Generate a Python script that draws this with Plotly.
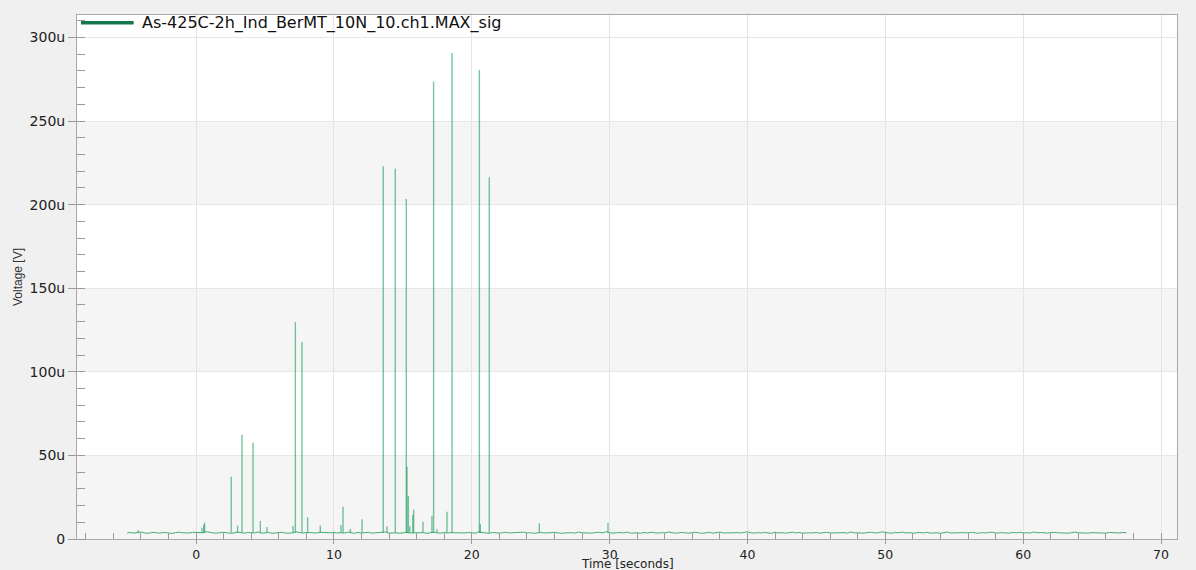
import plotly.graph_objects as go

# ---------------- data (microvolts / seconds) ----------------
series_name = "As-425C-2h_Ind_BerMT_10N_10.ch1.MAX_sig"
x_title = "Time [seconds]"
y_title = "Voltage [V]"

base_start_s = -5.0
base_step_s = 0.25
baseline_uv = [
    3.6, 3.9, 3.5, 3.7, 4.2, 3.6, 3.4, 3.8, 4.0, 3.5, 3.7, 3.9, 3.6, 3.3, 3.8, 4.1, 3.7, 3.5, 3.6, 4.0,
    3.8, 3.5, 3.7, 4.4, 3.9, 3.6, 3.5, 3.8, 4.0, 3.7, 3.4, 3.6, 4.1, 3.8, 3.5, 3.9, 3.7, 3.6, 4.2, 3.5,
    3.7, 3.9, 3.4, 3.6, 3.8, 4.0, 3.5, 3.7, 3.6, 4.3, 3.8, 3.5, 3.9, 3.7, 3.4, 3.6, 4.0, 3.8, 3.5, 3.7,
    3.9, 3.6, 3.8, 3.5, 4.1, 3.7, 3.4, 3.9, 3.6, 3.8, 4.0, 3.5, 3.7, 3.6, 3.9, 4.2, 3.5, 3.8, 3.7, 3.4,
    3.8, 4.0, 3.6, 3.7, 3.5, 3.9, 3.8, 3.4, 3.6, 4.1, 3.7, 3.5, 3.9, 3.6, 3.8, 3.7, 4.0, 3.5, 3.6, 3.9,
    3.7, 3.5, 4.2, 3.8, 3.6, 3.4, 3.9, 3.7, 3.5, 3.8, 4.0, 3.6, 3.7, 3.5, 3.9, 4.1, 3.6, 3.8, 3.4, 3.7,
    3.9, 3.6, 3.5, 3.8, 4.0, 3.7, 3.4, 3.6, 3.9, 3.8, 3.5, 4.2, 3.7, 3.6, 3.8, 3.5, 3.9, 4.0, 3.6, 4.4,
    3.8, 3.5, 3.7, 3.9, 3.6, 4.1, 3.5, 3.8, 3.7, 3.4, 3.9, 3.6, 4.0, 3.7, 3.5, 3.8, 3.6, 4.2, 3.7, 3.5,
    3.6, 3.9, 3.7, 3.5, 3.8, 4.0, 3.6, 3.4, 3.7, 3.9, 3.5, 3.8, 4.1, 3.6, 3.7, 3.5, 3.9, 3.8, 3.6, 4.0,
    4.3, 3.7, 3.5, 3.8, 3.6, 3.9, 3.7, 3.4, 4.0, 3.6, 3.8, 3.5, 3.7, 4.1, 3.6, 3.9, 3.5, 3.8, 3.7, 3.6,
    3.9, 3.5, 3.8, 4.0, 3.6, 3.7, 3.4, 3.9, 3.8, 3.5, 4.2, 3.7, 3.6, 3.8, 3.5, 3.9, 4.0, 3.6, 3.7, 4.3,
    3.8, 3.6, 3.5, 3.9, 3.7, 4.1, 3.6, 3.8, 3.5, 3.7, 3.9, 3.6, 4.0, 3.5, 3.8, 3.7, 3.4, 3.9, 4.2, 3.6,
    3.7, 3.5, 3.9, 3.8, 3.6, 4.0, 3.7, 3.4, 3.8, 3.6, 3.9, 4.1, 3.5, 3.7, 3.8, 3.6, 3.5, 3.9, 3.7, 4.0,
    3.6, 3.8, 3.5, 4.2, 3.7, 3.9, 3.6, 3.5, 3.8, 4.0, 3.7, 3.6, 3.9, 3.5, 3.8, 4.1, 3.7, 3.6, 3.9, 3.5,
    3.8, 3.7, 4.0, 3.6, 3.5, 3.9, 3.7, 3.8, 3.6, 3.9, 3.7,
]

spike_base_uv = 3.7
spike_times_s = [
    -4.2, 0.43, 0.55, 0.62, 2.55, 3.01, 3.33, 4.13, 4.66, 5.14,
    7.03, 7.20, 7.68, 8.09, 9.01, 10.51, 10.66, 11.19, 12.04, 13.58,
    13.85, 14.45, 15.25, 15.30, 15.40, 15.50, 15.72, 15.78, 16.46, 17.11,
    17.23, 17.48, 18.20, 18.57, 20.55, 20.62, 21.27, 24.90, 29.88,
]
spike_peaks_uv = [
    5.2, 6.8, 8.5, 9.8, 37.3, 8.0, 62.4, 57.6, 10.8, 7.2,
    7.8, 129.8, 117.8, 13.0, 8.0, 8.4, 19.3, 6.0, 11.8, 223.0,
    7.6, 221.5, 203.4, 43.2, 25.7, 7.7, 14.4, 17.6, 10.3, 13.9,
    273.7, 5.8, 16.3, 290.6, 280.5, 9.0, 216.4, 9.4, 9.5,
]

x_tick_values = [0, 10, 20, 30, 40, 50, 60, 70]
y_tick_values_uv = [0, 50, 100, 150, 200, 250, 300]
y_tick_labels = ["0", "50u", "100u", "150u", "200u", "250u", "300u"]
band_edges_uv = [(0, 50), (100, 150), (200, 250)]

UV = 1e-6

# ---------------- traces ----------------
spike_x, spike_y = [], []
for t, p in zip(spike_times_s, spike_peaks_uv):
    spike_x += [t, t, None]
    spike_y += [spike_base_uv * UV, p * UV, None]

fig = go.Figure()
fig.add_trace(go.Scatter(
    x0=base_start_s, dx=base_step_s, y=[v * UV for v in baseline_uv],
    mode="lines", line=dict(color="#45ad78", width=1),
    name=series_name, showlegend=False,
))
fig.add_trace(go.Scatter(
    x=spike_x, y=spike_y, mode="lines",
    line=dict(color="rgba(20,155,88,0.58)", width=1.4),
    name=series_name, showlegend=False,
))

# alternating bands
for lo, hi in band_edges_uv:
    fig.add_shape(type="rect", xref="paper", yref="y", x0=0, x1=1,
                  y0=lo * UV, y1=hi * UV, fillcolor="#f5f5f5",
                  line=dict(width=0), layer="below")

# legend (drawn manually to match the long swatch)
fig.add_shape(type="line", xref="paper", yref="paper",
              x0=0.0036, x1=0.0515, y0=0.9853, y1=0.9853,
              line=dict(color="#16784a", width=3.5))
fig.add_annotation(xref="paper", yref="paper", x=0.0575, y=0.9853,
                   xanchor="left", yanchor="middle", showarrow=False,
                   text=series_name,
                   font=dict(family="DejaVu Sans", size=16, color="#111"))

# x-axis title at the bottom edge
fig.add_annotation(xref="paper", yref="paper", x=0.5, y=0,
                   xanchor="center", yanchor="top", yshift=-17, showarrow=False,
                   text=x_title, borderpad=0,
                   font=dict(family="DejaVu Sans", size=12, color="#222"))

fig.update_layout(
    width=1196, height=570,
    margin=dict(l=77, r=19, t=15, b=31),
    paper_bgcolor="#f0f0f0", plot_bgcolor="#ffffff",
    showlegend=False,
    xaxis=dict(
        range=[-8.64, 71.16], tickmode="array", tickvals=x_tick_values,
        ticks="outside", ticklen=4, tickcolor="#9a9a9a",
        showgrid=True, gridcolor="#e4e4e4", gridwidth=1, zeroline=False,
        showline=True, linecolor="#a8a8a8", linewidth=1, mirror=True,
        minor=dict(tickmode="linear", tick0=0, dtick=2, ticks="inside",
                   ticklen=6, tickcolor="#9a9a9a", showgrid=False),
        tickfont=dict(family="DejaVu Sans", size=12.5, color="#222"), automargin=False,
    ),
    yaxis=dict(
        range=[0, 313.4 * UV], tickmode="array",
        tickvals=[v * UV for v in y_tick_values_uv], ticktext=y_tick_labels,
        ticks="outside", ticklen=8, tickcolor="#9a9a9a",
        showgrid=True, gridcolor="#e6e6e6", gridwidth=1, zeroline=False,
        showline=True, linecolor="#a8a8a8", linewidth=1, mirror=True,
        minor=dict(tickmode="linear", tick0=0, dtick=10 * UV, ticks="inside",
                   ticklen=8, tickcolor="#9a9a9a", showgrid=False),
        tickfont=dict(family="DejaVu Sans", size=14, color="#222"), automargin=False,
        title=dict(text=y_title, font=dict(family="Liberation Sans, Arial", size=12, color="#333"),
                   standoff=4),
    ),
)

fig.write_html(
    "out.html",
    config={"displayModeBar": False},
    post_script="document.body.style.margin='0';document.body.style.background='#f0f0f0';",
)
